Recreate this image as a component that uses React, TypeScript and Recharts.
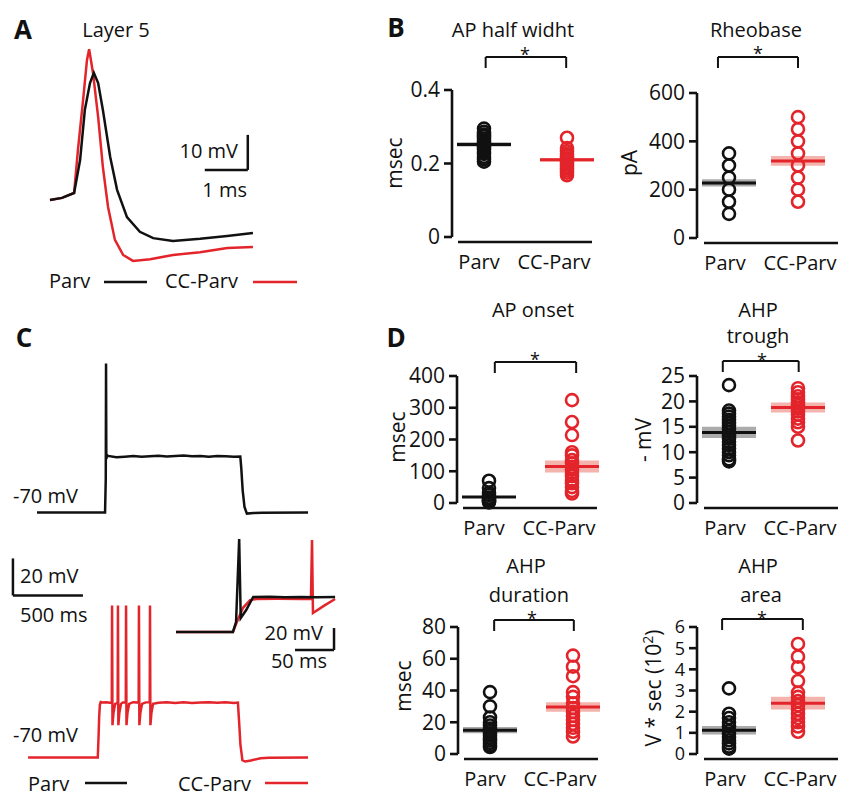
import React from 'react';
import {
  ScatterChart,
  Scatter,
  LineChart,
  Line,
  XAxis,
  YAxis,
  ReferenceLine,
  ReferenceArea,
} from 'recharts';

const FONT = '"Open Sans", "Noto Sans", sans-serif';
const INK = '#111111';
const RED = '#e3242b';

// ---- panel A: averaged action potential (ms, mV)
const apTimeParv = [0, 0.28, 0.56, 0.7, 0.81, 0.93, 1.02, 1.12, 1.23, 1.4, 1.56, 1.79, 2.09, 2.4, 2.86, 3.49, 4.12, 4.72];
const apVoltParv = [-48, -47.4, -46, -36.6, -22.3, -14.6, -11.7, -14.6, -22.3, -35.7, -45.1, -52.9, -57.1, -58.9, -59.7, -59.1, -58.3, -57.4];
const apTimeCc = [0, 0.28, 0.56, 0.65, 0.77, 0.86, 0.91, 1.0, 1.12, 1.23, 1.35, 1.51, 1.7, 1.93, 2.33, 2.86, 3.49, 4.12, 4.72];
const apVoltCc = [-48, -47.4, -46, -33.7, -19.4, -8, -4.9, -11.7, -24.3, -38.6, -50, -59.4, -63.7, -65.4, -64.9, -63.7, -62.9, -61.7, -61.4];

// ---- panel C: current step responses (ms, mV)
const stepTimeParv = [193, 679, 684, 686, 688, 694, 700, 760, 820, 880, 940, 1000, 1060, 1120, 1180, 1240, 1300, 1360, 1420, 1480, 1540, 1600, 1645, 1652, 1662, 1675, 1692, 1740, 1800, 2129];
const stepVoltParv = [-70, -70, -52, 10.5, -41, -39, -39.4, -40.1, -39.8, -39.4, -39.9, -39.6, -39.3, -39.7, -39.5, -39.2, -39.6, -39.4, -39.8, -39.5, -39.6, -39.9, -39.7, -46, -58, -67, -70.6, -70.3, -70.1, -70];
const stepTimeCc = [129, 627, 632, 637, 642, 648, 660, 690, 712, 727, 729, 732, 739, 751, 769, 771, 774, 781, 793, 806, 827, 829, 832, 839, 851, 880, 919, 921, 924, 931, 943, 970, 998, 1000, 1003, 1010, 1022, 1060, 1120, 1180, 1240, 1300, 1360, 1420, 1480, 1540, 1600, 1628, 1636, 1646, 1660, 1680, 1720, 1790, 1850, 2129];
const stepVoltCc = [-70, -70, -60, -48, -41.5, -40, -40.3, -40.1, -40.4, -40.2, 12.2, -52.5, -46, -41, -40.5, 12.2, -52.5, -46, -41, -40.3, -40.2, 12.2, -52.5, -46, -41, -40.1, -40.3, 12.2, -52.5, -46, -41, -40.2, -40.1, 12.2, -52.5, -46, -41, -40.4, -40.1, -40.5, -40.2, -40.6, -40.3, -40.1, -40.4, -40.2, -40.5, -40.3, -50, -63, -71.5, -72.2, -71.6, -70.4, -70.2, -70];

// inset: first spike on an expanded time base
const insetTimeParv = [0, 73, 77, 81, 83, 90, 99, 120, 140, 160, 180, 204];
const insetVoltParv = [-70, -70, -61, 14.5, -57.3, -50, -38.2, -38, -38.4, -38.1, -38.3, -38.2];
const insetTimeCc = [0, 73, 78, 86, 95, 103, 130, 160, 173, 174.4, 175.6, 190, 204];
const insetVoltCc = [-70, -70, -61, -48, -41, -40, -39.8, -40, -40, 13.6, -52.7, -46, -40];

// ---- panels B and D: individual cells, group mean and SEM
const groups = ['Parv', 'CC-Parv'];

const halfWidthParv = [0.205, 0.212, 0.218, 0.226, 0.231, 0.238, 0.244, 0.249, 0.253, 0.258, 0.262, 0.268, 0.274, 0.279, 0.286, 0.295];
const halfWidthCc = [0.168, 0.175, 0.181, 0.187, 0.192, 0.198, 0.203, 0.209, 0.214, 0.22, 0.226, 0.233, 0.242, 0.27];
const halfWidthMean = [0.252, 0.21];
const halfWidthSem = [0.006, 0.005];

const rheobaseParv = [100, 150, 200, 250, 300, 350];
const rheobaseCc = [150, 200, 250, 300, 350, 400, 450, 500];
const rheobaseMean = [228, 319];
const rheobaseSem = [15, 20];

const onsetParv = [2, 5, 8, 12, 17, 25, 32, 47, 70];
const onsetCc = [30, 38, 50, 62, 72, 85, 94, 105, 113, 125, 135, 150, 160, 214, 255, 324];
const onsetMean = [19, 115];
const onsetSem = [3, 19];

const troughParv = [23.2, 18.2, 17.6, 17, 16.4, 15.8, 15.2, 14.6, 14, 13.3, 12.7, 12, 11.4, 10.7, 10, 9.4, 8.6, 8.2];
const troughCc = [22.6, 21.8, 21, 20.4, 19.8, 19.2, 18.6, 18, 17.4, 16.6, 15.9, 15, 12.3];
const troughMean = [13.9, 18.8];
const troughSem = [1.1, 1.0];

const durationParv = [39, 30, 23, 20, 18, 16, 14.5, 13, 11.5, 10, 8.5, 7, 5.5, 4.4];
const durationCc = [62, 55, 49, 39, 36, 32, 29, 26.5, 24, 21.5, 19, 16.5, 14, 11];
const durationMean = [15, 29.6];
const durationSem = [2, 3];

const areaParv = [3.1, 1.9, 1.7, 1.5, 1.3, 1.1, 0.95, 0.8, 0.65, 0.5, 0.35, 0.25];
const areaCc = [5.2, 4.6, 4.1, 3.45, 2.9, 2.7, 2.5, 2.3, 2.1, 1.9, 1.7, 1.5, 1.3, 1.05];
const areaMean = [1.12, 2.4];
const areaSem = [0.2, 0.3];

const pts = (t: number[], v: number[]) => t.map((x, i) => ({ t: x, v: v[i] }));
const col = (g: number, v: number[]) => v.map((y) => ({ x: g, y }));

type Bar = [number, number, number, number];

function Trace({ left, top, xDomain, yDomain, pxX, pxY, series, bars }: any) {
  const m = 6;
  const w = (xDomain[1] - xDomain[0]) * pxX;
  const h = (yDomain[1] - yDomain[0]) * pxY;
  return (
    <div style={{ position: 'absolute', left: left - m, top: top - m }}>
      <LineChart width={w + 2 * m} height={h + 2 * m} margin={{ top: m, right: m, bottom: m, left: m }}>
        <XAxis type="number" dataKey="t" domain={xDomain} hide />
        <YAxis type="number" dataKey="v" domain={yDomain} hide />
        {series.map((s: any, i: number) => (
          <Line
            key={i}
            data={s.data}
            dataKey="v"
            type="linear"
            stroke={s.color}
            strokeWidth={2.5}
            dot={false}
            isAnimationActive={false}
          />
        ))}
        {bars.map((b: Bar, i: number) => (
          <ReferenceLine
            key={'b' + i}
            segment={[{ x: b[0], y: b[1] }, { x: b[2], y: b[3] }]}
            stroke={INK}
            strokeWidth={2.5}
            ifOverflow="visible"
          />
        ))}
      </LineChart>
    </div>
  );
}

function Dot(props: any) {
  const { cx, cy, fill } = props;
  return <circle cx={cx} cy={cy} r={6} fill="none" stroke={fill} strokeWidth={2.6} />;
}

function CellPanel({ axisX, topY, bottomY, right, yMax, ticks, tickFont = 21, parv, cc, mean, sem, bracket, bracketUp }: any) {
  const yw = 60;
  const mt = 46;
  const mb = 40;
  const plotW = 143;
  const plotH = bottomY - topY;
  const k = right ? 69 : 83; // px per group unit
  const d0 = 1 - 32 / k;
  const d1 = d0 + plotW / k;
  const perPx = yMax / plotH;
  const hw = 27 / k;
  const axStart = d0 + (right ? 7 : 6) / k;
  const axEnd = d0 + (right ? 141 : 140) / k;
  const shifts = right ? [-4, 2] : [-5, -13];
  const yb = yMax + bracketUp * perPx;
  const yd = yb - 11 * perPx;
  const tick = (p: any) => (
    <text
      x={p.x + shifts[p.payload.value - 1]}
      y={p.y + 32}
      textAnchor="middle"
      fontSize={20}
      fontFamily={FONT}
      fill={INK}
    >
      {groups[p.payload.value - 1]}
    </text>
  );
  const colors = [INK, RED];
  const bands = ['#8f8f8f', '#f19a92'];
  return (
    <div style={{ position: 'absolute', left: axisX - yw, top: topY - mt }}>
      <ScatterChart width={yw + plotW + 4} height={mt + plotH + mb} margin={{ top: mt, right: 4, bottom: 0, left: 0 }}>
        <XAxis
          type="number"
          dataKey="x"
          domain={[d0, d1]}
          ticks={[1, 2]}
          axisLine={false}
          tickLine={false}
          tickSize={0}
          tickMargin={0}
          height={mb}
          tick={tick}
        />
        <YAxis
          type="number"
          dataKey="y"
          domain={[0, yMax]}
          ticks={ticks}
          interval={0}
          width={yw}
          axisLine={{ stroke: INK, strokeWidth: 2.6 }}
          tickLine={{ stroke: INK, strokeWidth: 2.6 }}
          tickSize={8}
          tickMargin={4}
          tick={{ fontSize: tickFont, fill: INK, fontFamily: FONT }}
        />
        {[0, 1].map((g) => (
          <ReferenceArea
            key={'a' + g}
            x1={g + 1 - hw}
            x2={g + 1 + hw}
            y1={mean[g] - sem[g]}
            y2={mean[g] + sem[g]}
            fill={bands[g]}
            fillOpacity={0.75}
            stroke="none"
            ifOverflow="visible"
          />
        ))}
        <Scatter data={col(1, parv)} fill={INK} shape={<Dot />} isAnimationActive={false} />
        <Scatter data={col(2, cc)} fill={RED} shape={<Dot />} isAnimationActive={false} />
        {[0, 1].map((g) => (
          <ReferenceLine
            key={'m' + g}
            segment={[{ x: g + 1 - hw, y: mean[g] }, { x: g + 1 + hw, y: mean[g] }]}
            stroke={colors[g]}
            strokeWidth={3}
            ifOverflow="visible"
          />
        ))}
        <ReferenceLine
          segment={[{ x: axStart, y: -5 * perPx }, { x: axEnd, y: -5 * perPx }]}
          stroke={INK}
          strokeWidth={2.6}
          ifOverflow="visible"
        />
        <ReferenceLine segment={[{ x: bracket[0], y: yd }, { x: bracket[0], y: yb }]} stroke={INK} strokeWidth={2} ifOverflow="visible" />
        <ReferenceLine segment={[{ x: bracket[0], y: yb }, { x: bracket[1], y: yb }]} stroke={INK} strokeWidth={2} ifOverflow="visible" />
        <ReferenceLine segment={[{ x: bracket[1], y: yb }, { x: bracket[1], y: yd }]} stroke={INK} strokeWidth={2} ifOverflow="visible" />
      </ScatterChart>
    </div>
  );
}

function VText({ x, y, children }: any) {
  return (
    <text transform={`translate(${x},${y}) rotate(-90)`} textAnchor="middle" fontSize={21}>
      {children}
    </text>
  );
}

export default function App() {
  return (
    <div style={{ position: 'relative', width: 850, height: 801, margin: -8, overflow: 'hidden', background: '#fff', fontFamily: FONT }}>
      {/* A */}
      <Trace
        left={50}
        top={32}
        xDomain={[0, 4.72]}
        yDomain={[-70, 0]}
        pxX={43}
        pxY={3.5}
        series={[
          { data: pts(apTimeCc, apVoltCc), color: RED },
          { data: pts(apTimeParv, apVoltParv), color: INK },
        ]}
        bars={[
          [4.6, -29.4, 4.6, -39.4],
          [3.6, -39.4, 4.6, -39.4],
        ]}
      />
      {/* C */}
      <Trace
        left={10}
        top={345.5}
        xDomain={[0, 2140]}
        yDomain={[-80, 20]}
        pxX={0.14}
        pxY={1.85}
        series={[{ data: pts(stepTimeParv, stepVoltParv), color: INK }]}
        bars={[]}
      />
      <Trace
        left={10}
        top={553.5}
        xDomain={[0, 2140]}
        yDomain={[-80, 40]}
        pxX={0.14}
        pxY={1.85}
        series={[{ data: pts(stepTimeCc, stepVoltCc), color: RED }]}
        bars={[
          [21, 37.6, 21, 17.6],
          [21, 17.6, 521, 17.6],
        ]}
      />
      <Trace
        left={176}
        top={533}
        xDomain={[0, 205]}
        yDomain={[-90, 20]}
        pxX={0.78}
        pxY={1.1}
        series={[
          { data: pts(insetTimeCc, insetVoltCc), color: RED },
          { data: pts(insetTimeParv, insetVoltParv), color: INK },
        ]}
        bars={[
          [202.6, -66.4, 202.6, -86.4],
          [152.6, -86.4, 202.6, -86.4],
        ]}
      />
      {/* B */}
      <CellPanel axisX={452} topY={90} bottomY={237} yMax={0.4} ticks={[0, 0.2, 0.4]}
        parv={halfWidthParv} cc={halfWidthCc} mean={halfWidthMean} sem={halfWidthSem}
        bracket={[1.02, 1.99]} bracketUp={33} />
      <CellPanel axisX={697} topY={93} bottomY={238} right yMax={600} ticks={[0, 200, 400, 600]}
        parv={rheobaseParv} cc={rheobaseCc} mean={rheobaseMean} sem={rheobaseSem}
        bracket={[0.84, 2.0]} bracketUp={36} />
      {/* D */}
      <CellPanel axisX={457} topY={376} bottomY={503} yMax={400} ticks={[0, 100, 200, 300, 400]}
        parv={onsetParv} cc={onsetCc} mean={onsetMean} sem={onsetSem}
        bracket={[1.07, 2.05]} bracketUp={14} />
      <CellPanel axisX={697} topY={376} bottomY={503} right yMax={25} ticks={[0, 5, 10, 15, 20, 25]}
        parv={troughParv} cc={troughCc} mean={troughMean} sem={troughSem}
        bracket={[0.91, 2.01]} bracketUp={15} />
      <CellPanel axisX={458} topY={627} bottomY={754} yMax={80} ticks={[0, 20, 40, 60, 80]}
        parv={durationParv} cc={durationCc} mean={durationMean} sem={durationSem}
        bracket={[1.05, 2.01]} bracketUp={7} />
      <CellPanel axisX={697} topY={627} bottomY={754} right yMax={6} ticks={[0, 1, 2, 3, 4, 5, 6]} tickFont={18}
        parv={areaParv} cc={areaCc} mean={areaMean} sem={areaSem}
        bracket={[0.9, 2.07]} bracketUp={8} />

      <svg width={850} height={801} style={{ position: 'absolute', left: 0, top: 0, pointerEvents: 'none' }} fontFamily={FONT} fill={INK}>
        <g fontSize={26} fontWeight={700} textAnchor="middle">
          <text x={23} y={39}>A</text>
          <text x={396} y={37}>B</text>
          <text x={24} y={347}>C</text>
          <text x={396} y={347}>D</text>
        </g>
        <g fontSize={20} textAnchor="middle">
          <text x={116} y={37}>Layer 5</text>
          <text x={513} y={37}>AP half widht</text>
          <text x={756} y={37}>Rheobase</text>
          <text x={533} y={317}>AP onset</text>
          <text x={758} y={317}>AHP</text>
          <text x={758} y={343}>trough</text>
          <text x={526} y={573}>AHP</text>
          <text x={529} y={602}>duration</text>
          <text x={758} y={573}>AHP</text>
          <text x={761} y={602}>area</text>
        </g>
        <g fontSize={18} textAnchor="middle">
          <text x={525} y={61}>*</text>
          <text x={758} y={60}>*</text>
          <text x={535} y={366}>*</text>
          <text x={762} y={367}>*</text>
          <text x={532} y={625}>*</text>
          <text x={762} y={625}>*</text>
        </g>
        <VText x={402} y={163}>msec</VText>
        <VText x={637} y={163}>pA</VText>
        <VText x={405} y={437}>msec</VText>
        <VText x={651} y={440}>- mV</VText>
        <VText x={411} y={686}>msec</VText>
        <text transform="translate(661,688) rotate(-90)" textAnchor="middle" fontSize={21}>
          V * sec (10<tspan dy={-8} fontSize={14}>2</tspan><tspan dy={8}>)</tspan>
        </text>
        <g fontSize={20}>
          <text x={238} y={158} textAnchor="end">10 mV</text>
          <text x={247} y={197} textAnchor="end">1 ms</text>
          <text x={49} y={288}>Parv</text>
          <text x={165} y={288}>CC-Parv</text>
          <text x={13} y={503}>-70 mV</text>
          <text x={13} y={742}>-70 mV</text>
          <text x={20} y={583}>20 mV</text>
          <text x={20} y={622}>500 ms</text>
          <text x={323} y={640} textAnchor="end">20 mV</text>
          <text x={327} y={668} textAnchor="end">50 ms</text>
          <text x={28} y={791}>Parv</text>
          <text x={178} y={791}>CC-Parv</text>
        </g>
        <line x1={104} y1={282} x2={147} y2={282} stroke={INK} strokeWidth={2.5} />
        <line x1={253} y1={282} x2={297} y2={282} stroke={RED} strokeWidth={2.5} />
        <line x1={85} y1={783} x2={127} y2={783} stroke={INK} strokeWidth={2.5} />
        <line x1={265} y1={783} x2={308} y2={783} stroke={RED} strokeWidth={2.5} />
      </svg>
    </div>
  );
}
